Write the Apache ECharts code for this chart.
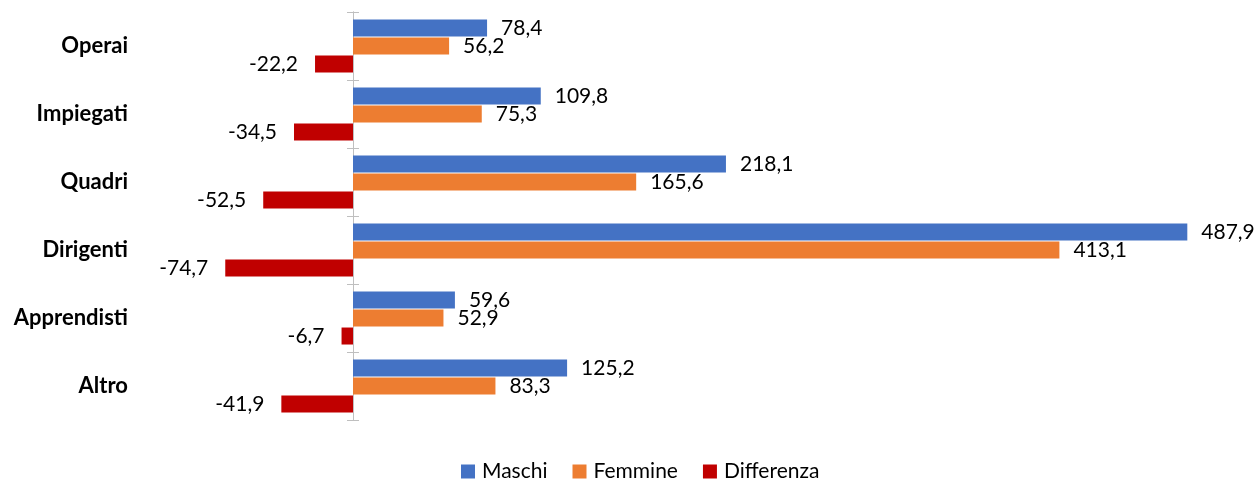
<!DOCTYPE html>
<html>
<head>
<meta charset="utf-8">
<script src="https://cdn.jsdelivr.net/npm/echarts@6/dist/echarts.min.js"></script>
<style>
    html, body { margin: 0; padding: 0; background: #fff; }
    #chart { width: 1260px; height: 482px; }
</style>
</head>
<body>
<div id="chart"></div>
<script>
    const categories = ["Operai", "Impiegati", "Quadri", "Dirigenti", "Apprendisti", "Altro"];
    const maschi = [78.4, 109.8, 218.1, 487.9, 59.6, 125.2];
    const femmine = [56.2, 75.3, 165.6, 413.1, 52.9, 83.3];
    const differenza = [-22.2, -34.5, -52.5, -74.7, -6.7, -41.9];

    const font = "Lato, 'Open Sans', sans-serif";
    // etichette con la virgola decimale
    const fmt = p => p.value.toFixed(1).replace(".", ",");

    const chart = echarts.init(document.getElementById("chart"));
    // asse verticale spostato sullo zero (grid left 182, zero a 353)
    const catAxis = {
        type: "category",
        data: categories,
        inverse: true,
        position: "left",
        offset: -171,
        axisLine: { onZero: false, lineStyle: { color: "#BFBFBF", width: 1 } },
        splitLine: { show: false }
    };
    const labelStyle = { fontSize: 21, color: "#000", fontFamily: font };
    chart.setOption({
        animation: false,
        textStyle: { fontFamily: font },
        color: ["#4472C4", "#ED7D31", "#C00000"],
        legend: {
            top: 461,
            left: 461,
            padding: 0,
            itemWidth: 14,
            itemHeight: 14,
            itemGap: 25,
            icon: "rect",
            textStyle: { fontSize: 21, color: "#000", fontFamily: font, padding: [0, 0, 0, 2] },
            data: ["Maschi", "Femmine", "Differenza"]
        },
        grid: { left: 182, right: 52, top: 12, bottom: 62, containLabel: false, outerBoundsMode: "none" },
        xAxis: {
            type: "value",
            min: -100,
            max: 500,
            show: false
        },
        yAxis: [
            Object.assign({}, catAxis, {
                axisTick: { show: true, length: 6, lineStyle: { color: "#BFBFBF" } },
                axisLabel: { margin: 225, fontSize: 22, fontWeight: "bold", color: "#000", fontFamily: font }
            }),
            Object.assign({}, catAxis, {
                axisTick: { show: true, inside: true, length: 6, lineStyle: { color: "#BFBFBF" } },
                axisLabel: { show: false }
            })
        ],
        series: [
            {
                name: "Maschi", type: "bar", data: maschi,
                barWidth: 17, barGap: "6%", barCategoryGap: "22%",
                label: Object.assign({ show: true, position: "right", distance: 14, formatter: fmt }, labelStyle)
            },
            {
                name: "Femmine", type: "bar", data: femmine,
                barWidth: 17, barGap: "6%",
                label: Object.assign({ show: true, position: "right", distance: 14, formatter: fmt }, labelStyle)
            },
            {
                name: "Differenza", type: "bar", data: differenza,
                barWidth: 17, barGap: "6%",
                label: Object.assign({ show: true, position: "left", distance: 17, formatter: fmt }, labelStyle)
            }
        ]
    });
</script>
</body>
</html>
